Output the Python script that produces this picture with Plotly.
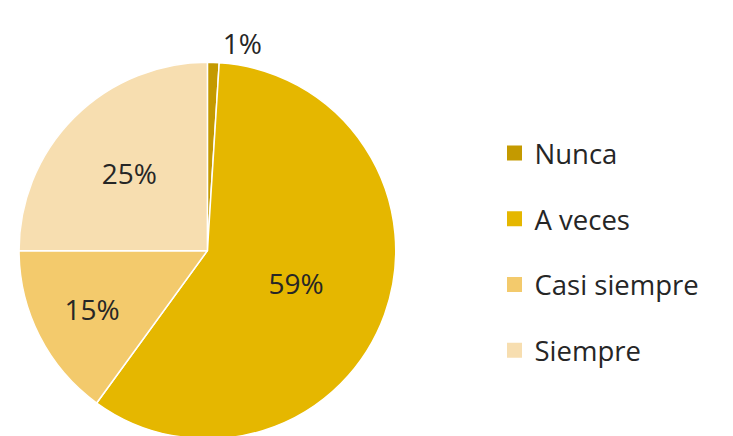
"""Pie chart: frequency responses (Nunca / A veces / Casi siempre / Siempre)."""

import plotly.graph_objects as go

CATEGORIES = ["Nunca", "A veces", "Casi siempre", "Siempre"]
PERCENTS = [1, 59, 15, 25]
COLORS = ["#C49A00", "#E5B700", "#F3CA6C", "#F7DEB0"]

FONT = "Open Sans"
TEXT_COLOR = "#262626"

fig = go.Figure()

fig.add_trace(go.Pie(
    labels=CATEGORIES,
    values=PERCENTS,
    sort=False,
    direction="clockwise",
    rotation=0,
    marker={"colors": COLORS, "line": {"color": "white", "width": 1.5}},
    texttemplate="%{value}%",
    textposition=["outside", "inside", "inside", "inside"],
    insidetextorientation="horizontal",
    textfont={"family": FONT, "size": 28, "color": TEXT_COLOR},
    outsidetextfont={"family": FONT, "size": 28, "color": TEXT_COLOR},
    showlegend=False,
    domain={"x": [0.0, 0.528], "y": [0.0, 0.874]},
    hoverinfo="label+percent",
))

# legend proxies so the entries can be spaced like the original
for name, color in zip(CATEGORIES, COLORS):
    fig.add_trace(go.Scatter(
        x=[None], y=[None], mode="markers", name=name, legendgroup=name,
        marker={"symbol": "square", "size": 15, "color": color},
    ))

fig.update_layout(
    width=733,
    height=436,
    margin={"l": 0, "r": 0, "t": 0, "b": 0},
    paper_bgcolor="white",
    plot_bgcolor="white",
    xaxis={"visible": False},
    yaxis={"visible": False},
    font={"family": FONT, "color": TEXT_COLOR},
    legend={
        "x": 0.66, "y": 0.72, "xanchor": "left", "yanchor": "top",
        "font": {"family": FONT, "size": 27.5, "color": TEXT_COLOR},
        "tracegroupgap": 27,
        "itemwidth": 30,
    },
)

fig.write_html("out.html")
